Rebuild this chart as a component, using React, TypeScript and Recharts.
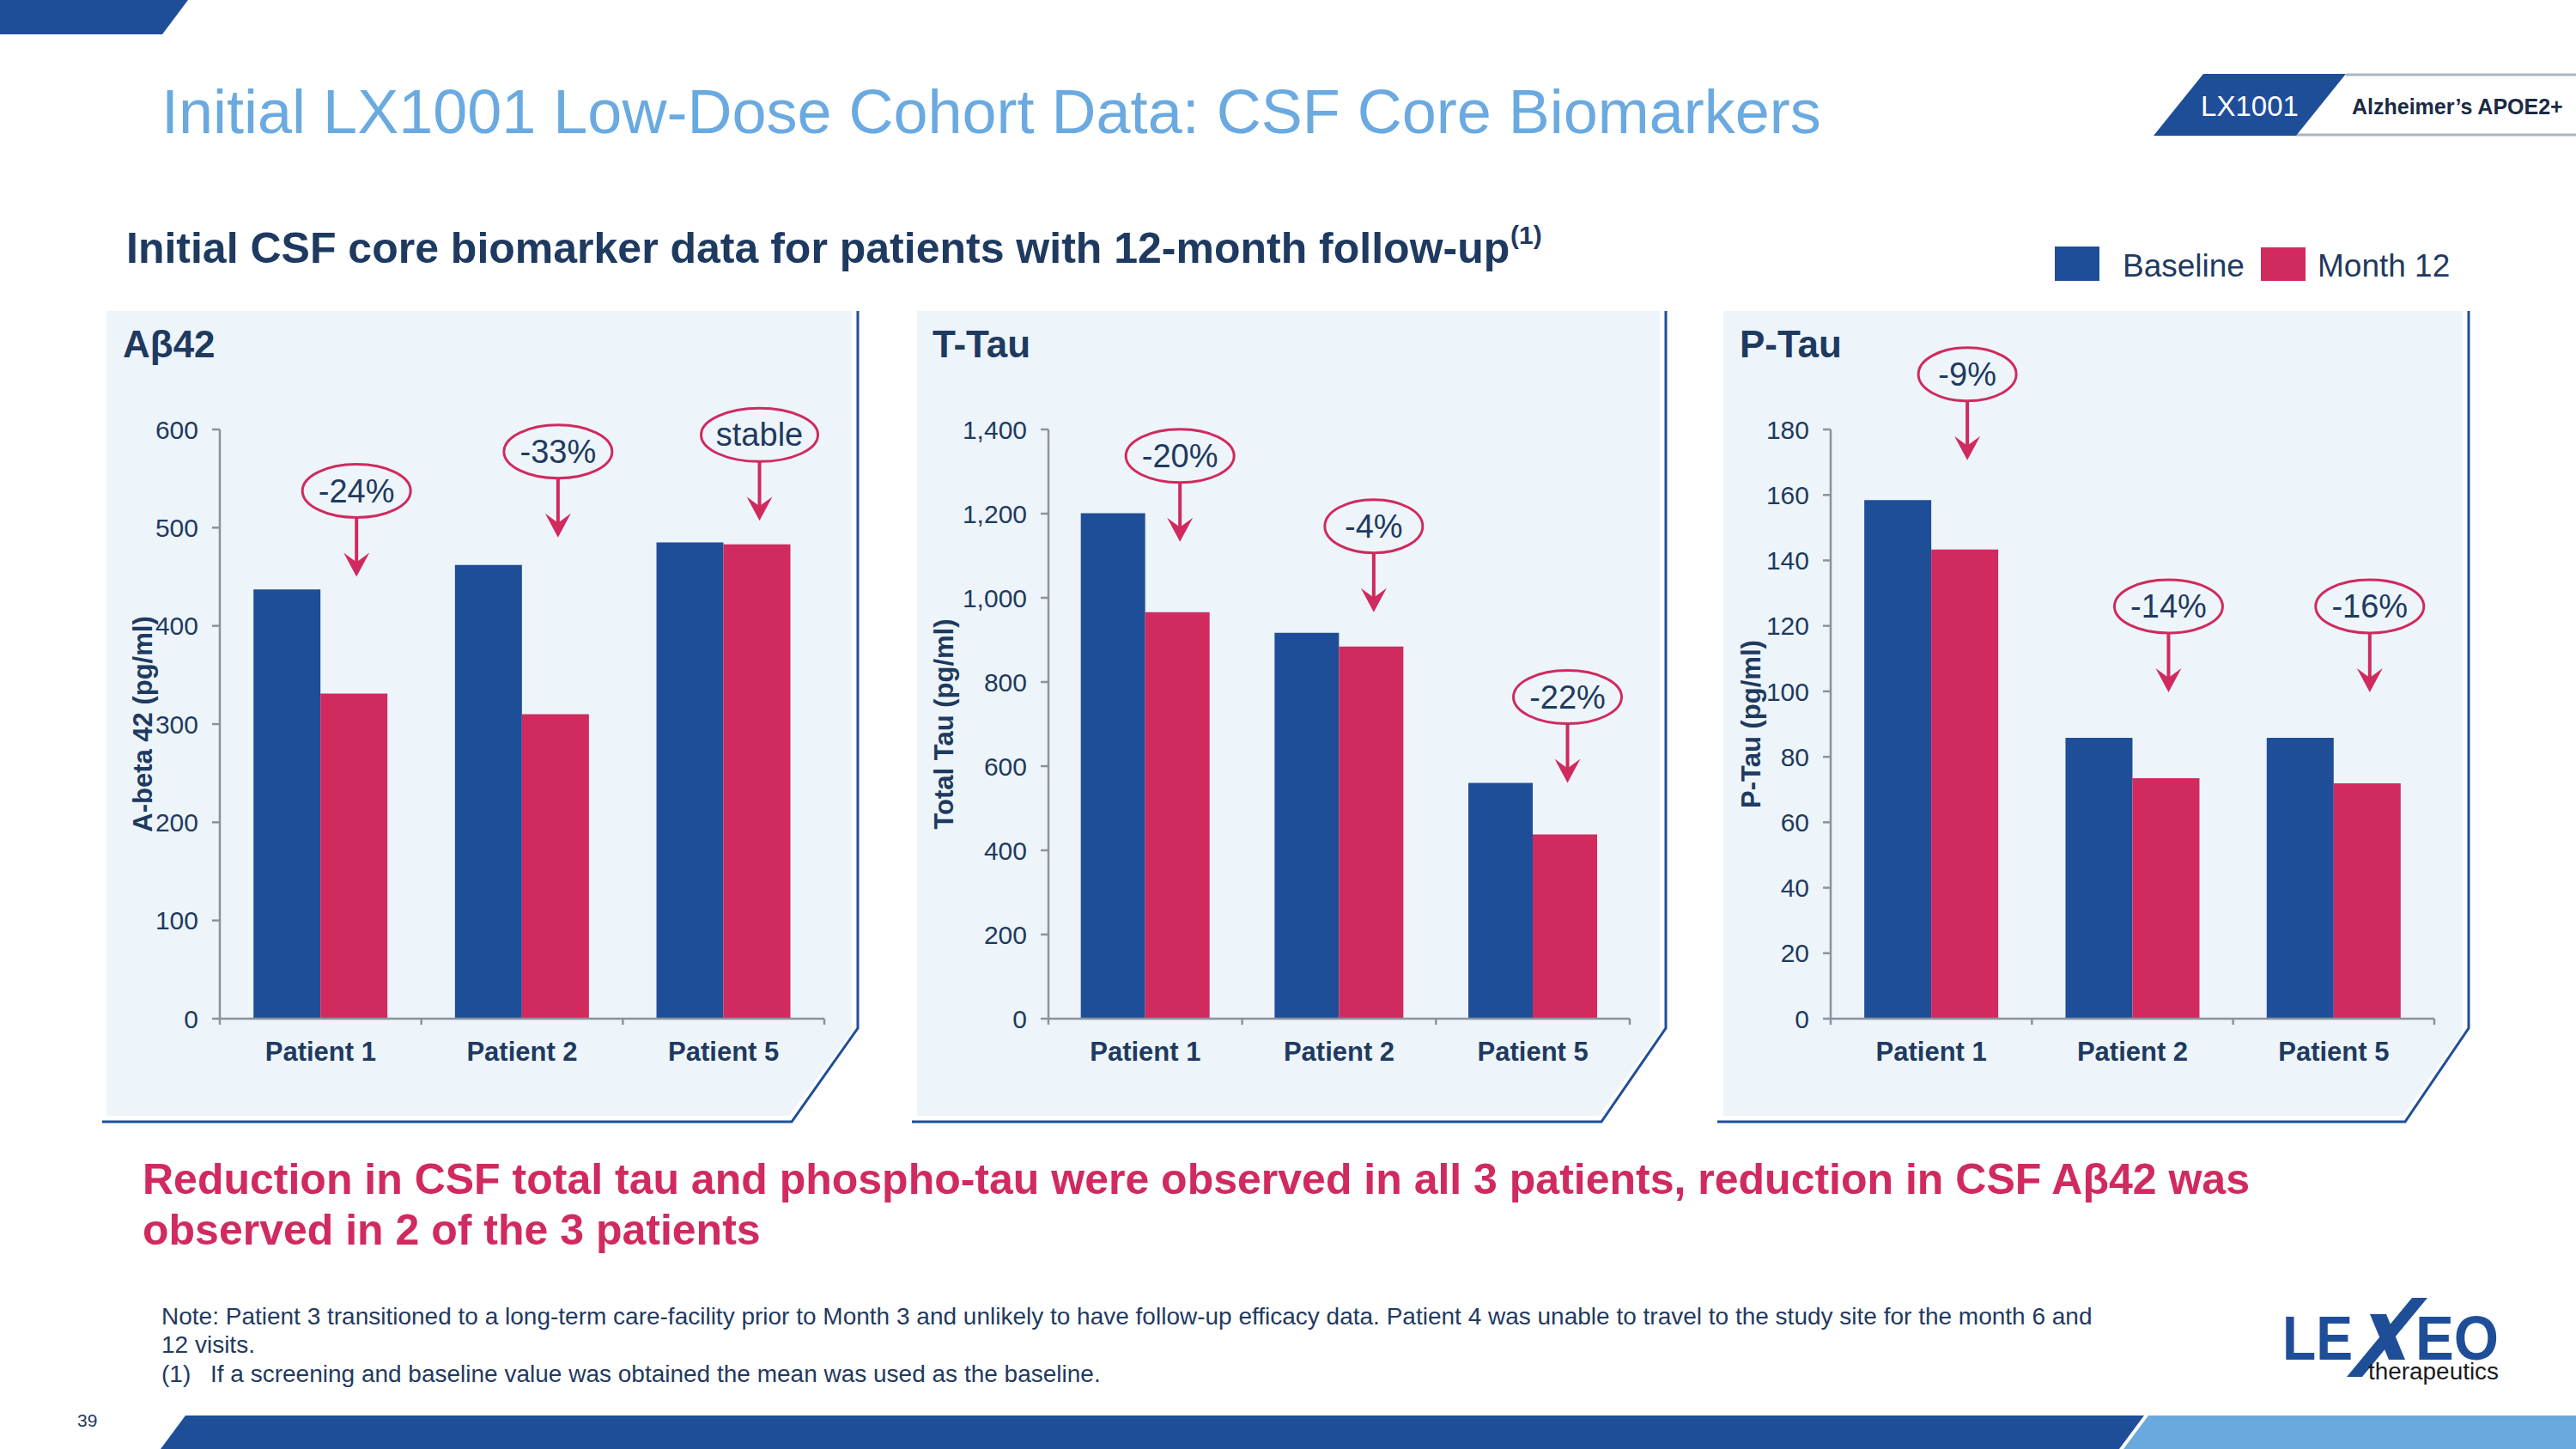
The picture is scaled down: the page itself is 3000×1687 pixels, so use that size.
import React from 'react';
import { BarChart, Bar, XAxis, YAxis, LabelList } from 'recharts';

// categories shared by the three panels
const patients = ['Patient 1', 'Patient 2', 'Patient 5'];

// A-beta 42 (pg/ml)
const abetaBaseline = [437, 462, 485];
const abetaMonth12 = [331, 310, 483];
const abetaChange = ['-24%', '-33%', 'stable'];
const abetaArrowTip = [450, 490, 507];
const abetaTicks = [0, 100, 200, 300, 400, 500, 600];

// Total tau (pg/ml)
const ttauBaseline = [1201, 917, 560];
const ttauMonth12 = [966, 884, 438];
const ttauChange = ['-20%', '-4%', '-22%'];
const ttauArrowTip = [1133, 966, 560];
const ttauTicks = [0, 200, 400, 600, 800, 1000, 1200, 1400];

// P-tau (pg/ml)
const ptauBaseline = [158.4, 85.8, 85.8];
const ptauMonth12 = [143.3, 73.5, 71.9];
const ptauChange = ['-9%', '-14%', '-16%'];
const ptauArrowTip = [170.6, 99.7, 99.7];
const ptauTicks = [0, 20, 40, 60, 80, 100, 120, 140, 160, 180];

const FONT = '"Liberation Sans", Arial, Helvetica, sans-serif';
const NAVY = '#1f3a60';
const BLUE = '#1f4e99';
const PINK = '#d02a5e';
const LIGHT = '#6aaae0';
const AXIS = '#8a939c';
const PANEL_BG = '#edf5fa';

const PANEL_TOP = 362;
const DIAG_Y = 1197;
const BOTTOM_Y = 1306;
const CHART_TOP = 380;
const PLOT_TOP = 120;
const PLOT_H = 686;
const XAXIS_H = 80;

const panels = [
  {
    title: 'Aβ42', yTitle: 'A-beta 42 (pg/ml)',
    baseline: abetaBaseline, month12: abetaMonth12, change: abetaChange, tip: abetaArrowTip, ticks: abetaTicks,
    lineLeft: 119, bgLeft: 124, right: 999, diagEnd: 922, titleX: 143, yTitleX: 166,
    yAxisW: 132, plotW: 704,
  },
  {
    title: 'T-Tau', yTitle: 'Total Tau (pg/ml)',
    baseline: ttauBaseline, month12: ttauMonth12, change: ttauChange, tip: ttauArrowTip, ticks: ttauTicks,
    lineLeft: 1062, bgLeft: 1068, right: 1940, diagEnd: 1865, titleX: 1086, yTitleX: 1099,
    yAxisW: 153, plotW: 677,
  },
  {
    title: 'P-Tau', yTitle: 'P-Tau (pg/ml)',
    baseline: ptauBaseline, month12: ptauMonth12, change: ptauChange, tip: ptauArrowTip, ticks: ptauTicks,
    lineLeft: 2000, bgLeft: 2007, right: 2875, diagEnd: 2801, titleX: 2026, yTitleX: 2039,
    yAxisW: 125, plotW: 703,
  },
];

// category label plus the small boundary ticks between patients
const makePatientTick = (plotW: number) => (props: any) => {
  const { x, y, payload, index } = props;
  const band = plotW / patients.length;
  const left = x - band / 2;
  const right = x + band / 2;
  return (
    <g>
      <line x1={left} x2={left} y1={y} y2={y + 7} stroke={AXIS} strokeWidth={2.5} />
      {index === patients.length - 1 && (
        <line x1={right} x2={right} y1={y} y2={y + 7} stroke={AXIS} strokeWidth={2.5} />
      )}
      <text x={x} y={y + 49} textAnchor="middle" fontSize={31} fontWeight={700} fill={NAVY} fontFamily={FONT}>
        {payload.value}
      </text>
    </g>
  );
};

// ellipse with the % change and an arrow pointing down at the month 12 bar
const makeAnnotation = (change: string[], tip: number[], month12: number[]) => (props: any) => {
  const vb = props.viewBox && props.viewBox.width !== undefined ? props.viewBox : props;
  const { x, y, width, height } = vb;
  const i = patients.indexOf(props.value);
  if (i < 0 || !height) return null;
  const zeroY = y + height;
  const tipY = zeroY - (tip[i] / month12[i]) * height;
  const cx = x + width / 2 + 3;
  const cy = tipY - 100;
  const label = change[i];
  const rx = label.length <= 3 ? 57 : label.length === 4 ? 63 : 68;
  return (
    <g>
      <ellipse cx={cx} cy={cy} rx={rx} ry={31} fill="none" stroke={PINK} strokeWidth={3} />
      <text x={cx} y={cy + 13} textAnchor="middle" fontSize={38} fill={NAVY} fontFamily={FONT}>
        {label}
      </text>
      <line x1={cx} x2={cx} y1={cy + 31} y2={tipY - 14} stroke={PINK} strokeWidth={4} />
      <path
        d={`M${cx},${tipY} L${cx - 15},${tipY - 28} L${cx},${tipY - 17} L${cx + 15},${tipY - 28} Z`}
        fill={PINK}
      />
    </g>
  );
};

function PanelChart({ p }: { p: (typeof panels)[number] }) {
  const data = patients.map((name, i) => ({ name, baseline: p.baseline[i], month12: p.month12[i] }));
  const max = p.ticks[p.ticks.length - 1];
  return (
    <div style={{ position: 'absolute', left: p.bgLeft, top: CHART_TOP }}>
      <BarChart
        width={p.yAxisW + p.plotW + 20}
        height={PLOT_TOP + PLOT_H + XAXIS_H}
        data={data}
        margin={{ top: PLOT_TOP, right: 20, bottom: 0, left: 0 }}
        barCategoryGap="16.7%"
        barGap={0}
      >
        <XAxis
          dataKey="name"
          height={XAXIS_H}
          interval={0}
          axisLine={{ stroke: AXIS, strokeWidth: 2.5 }}
          tickLine={false}
          tickSize={0}
          tickMargin={0}
          tick={makePatientTick(p.plotW)}
        />
        <YAxis
          type="number"
          domain={[0, max]}
          ticks={p.ticks}
          interval={0}
          width={p.yAxisW}
          axisLine={{ stroke: AXIS, strokeWidth: 2.5 }}
          tickLine={{ stroke: AXIS, strokeWidth: 2.5 }}
          tickSize={9}
          tickMargin={16}
          tick={{ fontSize: 30, fill: NAVY, fontFamily: FONT }}
          tickFormatter={(v: number) => v.toLocaleString('en-US')}
        />
        <Bar dataKey="baseline" name="Baseline" fill={BLUE} isAnimationActive={false} />
        <Bar dataKey="month12" name="Month 12" fill={PINK} isAnimationActive={false}>
          <LabelList dataKey="name" content={makeAnnotation(p.change, p.tip, p.month12)} />
        </Bar>
      </BarChart>
    </div>
  );
}

export default function App() {
  return (
    <div
      style={{
        position: 'absolute', left: 0, top: 0, width: 3000, height: 1687,
        background: '#fff', overflow: 'hidden', fontFamily: FONT,
      }}
    >
      <svg width={3000} height={1687} style={{ position: 'absolute', left: 0, top: 0 }} fontFamily={FONT}>
        {/* header */}
        <polygon points="0,0 219,0 189,40 0,40" fill={BLUE} />
        <text x={188} y={155} fontSize={72} fill={LIGHT}>
          Initial LX1001 Low-Dose Cohort Data: CSF Core Biomarkers
        </text>
        <line x1={2732} x2={3000} y1={87} y2={87} stroke="#a9b7c3" strokeWidth={3} />
        <line x1={2674} x2={3000} y1={157} y2={157} stroke="#a9b7c3" strokeWidth={3} />
        <polygon points="2566,86 2732,86 2674,158 2508,158" fill={BLUE} />
        <text x={2620} y={135} fontSize={33} fill="#fff" textAnchor="middle">LX1001</text>
        <text x={2739} y={133} fontSize={25} fontWeight={700} fill="#1a2a44">Alzheimer’s APOE2+</text>

        <text x={147} y={306} fontSize={50} fontWeight={700} fill={NAVY}>
          Initial CSF core biomarker data for patients with 12-month follow-up
        </text>
        <text x={1759} y={284} fontSize={30} fontWeight={700} fill={NAVY}>(1)</text>

        {/* legend */}
        <rect x={2393} y={287} width={52} height={40} fill={BLUE} />
        <text x={2472} y={322} fontSize={37} fill={NAVY}>Baseline</text>
        <rect x={2633} y={288} width={52} height={39} fill={PINK} />
        <text x={2699} y={322} fontSize={37} fill={NAVY}>Month 12</text>

        {/* panel frames */}
        {panels.map((p) => (
          <g key={p.title}>
            <polygon
              points={`${p.bgLeft},${PANEL_TOP} ${p.right - 7},${PANEL_TOP} ${p.right - 7},${DIAG_Y + 4} ${p.diagEnd - 3},${BOTTOM_Y - 7} ${p.bgLeft},${BOTTOM_Y - 7}`}
              fill={PANEL_BG}
            />
            <polyline
              points={`${p.right},${PANEL_TOP} ${p.right},${DIAG_Y} ${p.diagEnd},${BOTTOM_Y} ${p.lineLeft},${BOTTOM_Y}`}
              fill="none"
              stroke={BLUE}
              strokeWidth={3}
            />
            <text x={p.titleX} y={416} fontSize={44} fontWeight={700} fill={NAVY}>{p.title}</text>
            <text
              x={p.yTitleX}
              y={843}
              fontSize={31}
              fontWeight={700}
              fill={NAVY}
              textAnchor="middle"
              dominantBaseline="central"
              transform={`rotate(-90 ${p.yTitleX} 843)`}
            >
              {p.yTitle}
            </text>
          </g>
        ))}

        {/* takeaway */}
        <text x={166} y={1390} fontSize={50} fontWeight={700} fill={PINK}>
          Reduction in CSF total tau and phospho-tau were observed in all 3 patients, reduction in CSF Aβ42 was
        </text>
        <text x={166} y={1449} fontSize={50} fontWeight={700} fill={PINK}>
          observed in 2 of the 3 patients
        </text>

        {/* footnotes */}
        <text x={188} y={1542} fontSize={28} fill={NAVY}>
          Note: Patient 3 transitioned to a long-term care-facility prior to Month 3 and unlikely to have follow-up efficacy data. Patient 4 was unable to travel to the study site for the month 6 and
        </text>
        <text x={188} y={1575} fontSize={28} fill={NAVY}>12 visits.</text>
        <text x={188} y={1609} fontSize={28} fill={NAVY}>(1)</text>
        <text x={245} y={1609} fontSize={28} fill={NAVY}>
          If a screening and baseline value was obtained the mean was used as the baseline.
        </text>

        {/* logo */}
        <text x={2658} y={1583} fontSize={72} fontWeight={900} fill={BLUE} textLength={82} lengthAdjust="spacingAndGlyphs">LE</text>
        <polygon points="2733,1603 2751,1603 2827,1511 2809,1511" fill={BLUE} />
        <polygon points="2760,1530 2779,1530 2801,1583 2782,1583" fill={BLUE} />
        <text x={2813} y={1583} fontSize={72} fontWeight={900} fill={BLUE} textLength={97} lengthAdjust="spacingAndGlyphs">EO</text>
        <text x={2758} y={1606} fontSize={27} fill="#1a1a1a" textLength={152} lengthAdjust="spacingAndGlyphs">therapeutics</text>

        {/* footer */}
        <text x={90} y={1661} fontSize={21} fill={NAVY}>39</text>
        <polygon points="216,1648 2497,1648 2468,1687 187,1687" fill={BLUE} />
        <polygon points="2502,1648 3000,1648 3000,1687 2473,1687" fill="#6aa9de" />
      </svg>

      {panels.map((p) => (
        <PanelChart key={p.title} p={p} />
      ))}
    </div>
  );
}
